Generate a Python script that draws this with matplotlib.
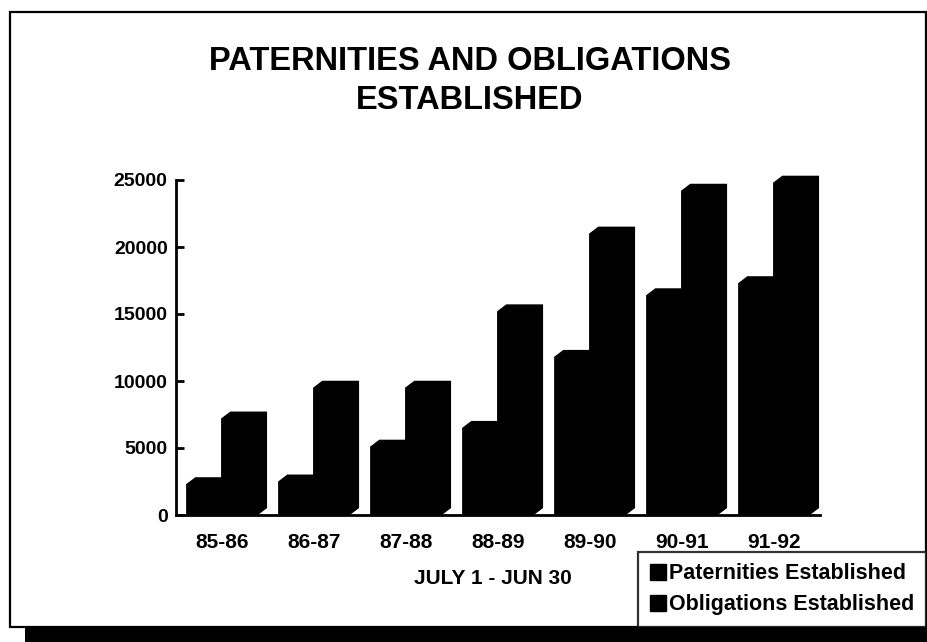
import matplotlib
matplotlib.use("Agg")
import matplotlib.pyplot as plt
from matplotlib.patches import Rectangle, Patch
import numpy as np

plt.rcParams['font.family'] = ['Liberation Sans', 'DejaVu Sans']
plt.rcParams['font.weight'] = 'bold'

categories = ["85-86", "86-87", "87-88", "88-89", "89-90", "90-91", "91-92"]
paternities = [2300, 2500, 5100, 6500, 11800, 16400, 17300]
obligations = [7200, 9500, 9500, 15200, 21000, 24200, 24800]
yticks = [0, 5000, 10000, 15000, 20000, 25000]
series_names = ["Paternities Established", "Obligations Established"]
title = "PATERNITIES AND OBLIGATIONS\nESTABLISHED"
xlabel = "JULY 1 - JUN 30"

W, H = 928, 642
fig = plt.figure(figsize=(W / 100, H / 100), dpi=100)
fig.patch.set_facecolor("white")

# frame and drop shadow
fig.patches.append(Rectangle((25 / W, 0), (W - 25) / W, 15 / H, transform=fig.transFigure,
                             facecolor="black", edgecolor="none", zorder=-2))
fig.patches.append(Rectangle((10 / W, 1 - 627 / H), (926 - 10) / W, (627 - 12) / H,
                             transform=fig.transFigure, facecolor="white",
                             edgecolor="black", linewidth=1.6, zorder=-1))

ax = fig.add_axes([176 / W, 1 - 515 / H, (820 - 176) / W, (515 - 180) / H])
ax.set_facecolor("none")
ax.set_zorder(2)

x = np.arange(len(categories))
front_w = 0.40
dx = 0.10
dy = 520


def bar3d(x0, v):
    x1 = x0 + front_w
    xs = [x0, x0, x0 + dx, x1 + dx, x1 + dx, x1]
    ys = [0, v, v + dy, v + dy, dy, 0]
    ax.fill(xs, ys, color="black", linewidth=0, clip_on=False, zorder=3)


for xi, p, o in zip(x, paternities, obligations):
    bar3d(xi - 0.39, p)
    bar3d(xi - 0.01, o)

ax.set_xlim(-0.5, len(categories) - 0.5)
ax.set_ylim(0, 25000)
ax.set_yticks(yticks)
ax.set_yticklabels([str(t) for t in yticks], fontsize=14, fontweight="bold")
ax.set_xticks(x)
ax.set_xticklabels(categories, fontsize=15, fontweight="bold")
ax.tick_params(axis="y", direction="in", length=6, width=2, pad=6)
ax.tick_params(axis="x", length=0, pad=13)
for s in ["top", "right"]:
    ax.spines[s].set_visible(False)
for s in ["left", "bottom"]:
    ax.spines[s].set_linewidth(2)

fig.text(470 / W, 1 - 81 / H, title, ha="center", va="center", fontsize=23.5,
         fontweight="bold", linespacing=1.35)
fig.text(493 / W, 1 - 579 / H, xlabel, ha="center", va="center", fontsize=15,
         fontweight="bold")

handles = [Patch(facecolor="black", edgecolor="black"),
           Patch(facecolor="black", edgecolor="black")]
leg = fig.legend(handles, series_names, loc="lower right",
                 bbox_to_anchor=(926 / W, 1 - 627 / H), bbox_transform=fig.transFigure,
                 borderaxespad=0, frameon=True, fancybox=False,
                 prop={"weight": "bold", "size": 15.5},
                 handlelength=0.75, handleheight=0.75, handletextpad=0.15,
                 borderpad=0.55, labelspacing=0.45)
leg.get_frame().set_edgecolor("black")
leg.get_frame().set_linewidth(1.6)
leg.set_zorder(5)

fig.savefig("out.png", dpi=100, facecolor="white")
